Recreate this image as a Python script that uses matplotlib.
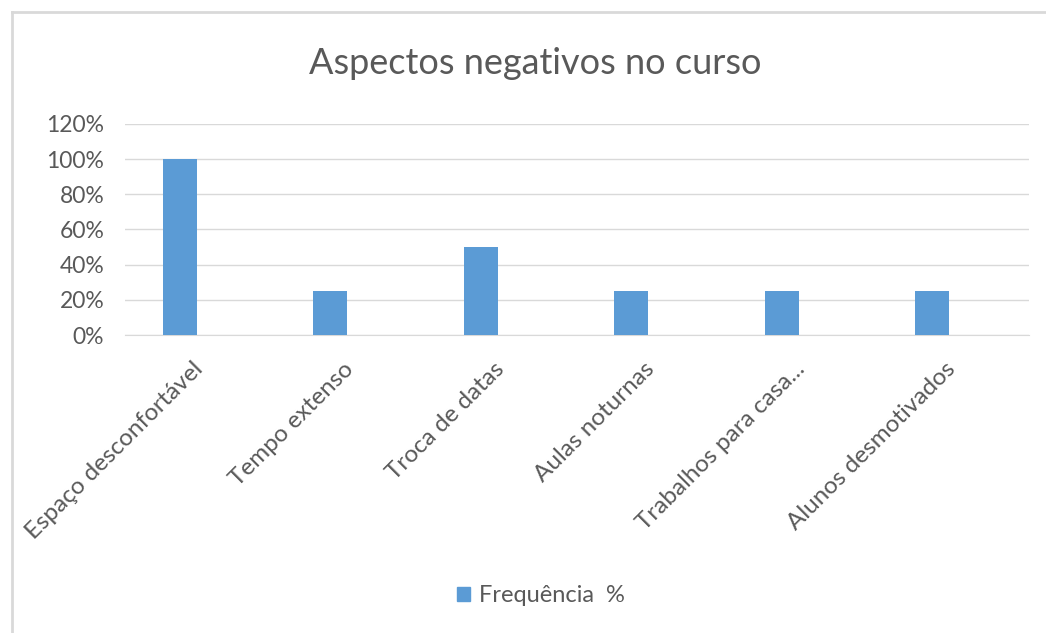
import matplotlib.pyplot as plt
from matplotlib.patches import Patch
from matplotlib.ticker import PercentFormatter

categorias = ['Espaço desconfortável', 'Tempo extenso', 'Troca de datas',
              'Aulas noturnas', 'Trabalhos para casa...', 'Alunos desmotivados']
frequencia = [1.0, 0.25, 0.5, 0.25, 0.25, 0.25]
yticks = [0, 0.2, 0.4, 0.6, 0.8, 1.0, 1.2]

cor = '#5B9BD5'
cinza = '#595959'
plt.rcParams['font.family'] = ['Lato', 'DejaVu Sans']

fig = plt.figure(figsize=(10.46, 6.33), dpi=100)
ax = fig.add_axes([125/1046, 1-335/633, 904/1046, 211/633])

x = list(range(len(categorias)))
ax.bar(x, frequencia, width=0.226, color=cor, zorder=3)
ax.set_xlim(-0.366, 5.645)
ax.set_ylim(0, 1.2)
ax.set_yticks(yticks)
ax.yaxis.set_major_formatter(PercentFormatter(1.0, decimals=0))
ax.grid(axis='y', color='#d9d9d9', lw=1, zorder=0)
for s in ['top', 'right', 'left']:
    ax.spines[s].set_visible(False)
ax.spines['bottom'].set_color('#d9d9d9')
ax.tick_params(length=0, labelsize=16.5, colors=cinza)
ax.tick_params(axis='y', pad=15)
ax.set_xticks(x)
ax.set_xticklabels([])

# rótulos das categorias (inclinados, deslocados à direita como no Excel)
for i, cat in enumerate(categorias):
    ax.annotate(cat, xy=(i, 0), xycoords=('data', 'axes fraction'),
                xytext=(9, -17), textcoords='offset points',
                rotation=45, ha='right', va='top', rotation_mode='anchor',
                fontsize=17.5, color=cinza, annotation_clip=False)

fig.text(535/1046, 1-64/633, 'Aspectos negativos no curso', ha='center', va='center',
         fontsize=26, color=cinza)

fig.legend(handles=[Patch(color=cor, label='Frequência  %')], loc='center',
           bbox_to_anchor=(541/1046, 1-596/633), frameon=False, fontsize=17,
           handlelength=0.55, handleheight=0.55, handletextpad=0.35, labelcolor=cinza)

# moldura do gráfico
fig.add_artist(plt.Line2D([12/1046, 12/1046], [0, 1-12/633], color='#d9d9d9', lw=2,
                          transform=fig.transFigure))
fig.add_artist(plt.Line2D([12/1046, 1], [1-12/633, 1-12/633], color='#d9d9d9', lw=2,
                          transform=fig.transFigure))

fig.savefig('out.png', dpi=100)
